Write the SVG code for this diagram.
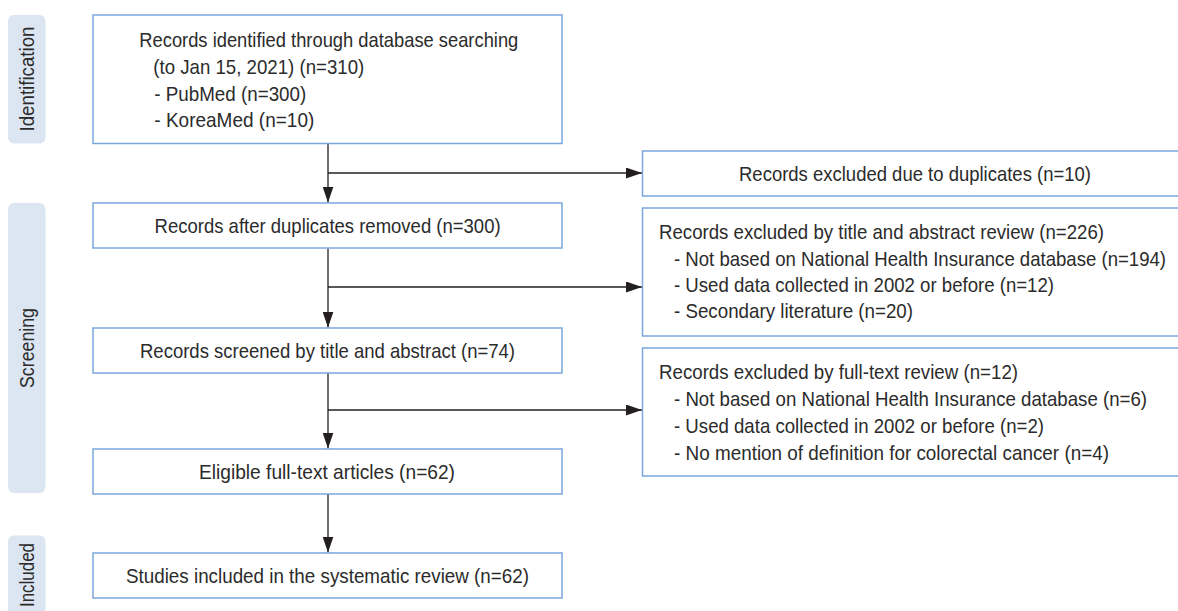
<svg xmlns="http://www.w3.org/2000/svg" width="1178" height="611" viewBox="0 0 1178 611">
<style>
.box{fill:#fff;stroke:#7ba7dc;stroke-width:1.5}
.pill{fill:#dce6f2;stroke:none}
.t{font-family:"Liberation Sans",Arial,sans-serif;font-size:21px;fill:#2b2b2b}
.c{stroke:#231f20;stroke-width:1.3;fill:none}
</style>
<defs>
<marker id="ah" markerUnits="userSpaceOnUse" markerWidth="16" markerHeight="11" refX="16" refY="5.5" orient="auto">
<path d="M0,0 L16,5.5 L0,11 z" fill="#231f20"/>
</marker>
</defs>
<g id="stage-identification">
<rect class="pill" x="8" y="15" width="37.5" height="128.5" rx="6"/>
<text class="t" x="34" y="79" text-anchor="middle" transform="rotate(-90 34 79)" textLength="105" lengthAdjust="spacingAndGlyphs">Identification</text>
</g>
<g id="stage-screening">
<rect class="pill" x="8" y="203" width="37.5" height="290" rx="6"/>
<text class="t" x="34" y="348" text-anchor="middle" transform="rotate(-90 34 348)" textLength="80" lengthAdjust="spacingAndGlyphs">Screening</text>
</g>
<g id="stage-included">
<rect class="pill" x="8" y="535.5" width="37.5" height="90" rx="6"/>
<text class="t" x="34" y="543" text-anchor="end" transform="rotate(-90 34 543)" textLength="64" lengthAdjust="spacingAndGlyphs">Included</text>
</g>
<g id="connectors">
<line class="c" x1="328" y1="143.5" x2="328" y2="202.5" marker-end="url(#ah)"/>
<line class="c" x1="328" y1="173" x2="642" y2="173" marker-end="url(#ah)"/>
<line class="c" x1="328" y1="248.5" x2="328" y2="327.5" marker-end="url(#ah)"/>
<line class="c" x1="328" y1="287" x2="642" y2="287" marker-end="url(#ah)"/>
<line class="c" x1="328" y1="373" x2="328" y2="448.5" marker-end="url(#ah)"/>
<line class="c" x1="328" y1="410" x2="642" y2="410" marker-end="url(#ah)"/>
<line class="c" x1="328" y1="494" x2="328" y2="552.5" marker-end="url(#ah)"/>
</g>
<g id="identified">
<rect class="box" x="93" y="15" width="469" height="128.5"/>
<text class="t" x="139.3" y="47.3" textLength="379" lengthAdjust="spacingAndGlyphs">Records identified through database searching</text>
<text class="t" x="153.3" y="74" textLength="211" lengthAdjust="spacingAndGlyphs">(to Jan 15, 2021) (n=310)</text>
<text class="t" x="154.3" y="100.7" textLength="152" lengthAdjust="spacingAndGlyphs">- PubMed (n=300)</text>
<text class="t" x="154.3" y="127.3" textLength="160" lengthAdjust="spacingAndGlyphs">- KoreaMed (n=10)</text>
</g>
<g id="excluded-duplicates">
<rect class="box" x="642.5" y="151" width="545" height="45"/>
<text class="t" x="739" y="180.7" textLength="352" lengthAdjust="spacingAndGlyphs">Records excluded due to duplicates (n=10)</text>
</g>
<g id="after-duplicates">
<rect class="box" x="93" y="203" width="469" height="45"/>
<text class="t" x="154.6" y="233.3" textLength="346" lengthAdjust="spacingAndGlyphs">Records after duplicates removed (n=300)</text>
</g>
<g id="excluded-title-abstract">
<rect class="box" x="642.5" y="208" width="545" height="128"/>
<text class="t" x="659" y="239" textLength="445" lengthAdjust="spacingAndGlyphs">Records excluded by title and abstract review (n=226)</text>
<text class="t" x="674" y="266" textLength="492" lengthAdjust="spacingAndGlyphs">- Not based on National Health Insurance database (n=194)</text>
<text class="t" x="674" y="292" textLength="380" lengthAdjust="spacingAndGlyphs">- Used data collected in 2002 or before (n=12)</text>
<text class="t" x="674" y="318" textLength="239" lengthAdjust="spacingAndGlyphs">- Secondary literature (n=20)</text>
</g>
<g id="screened">
<rect class="box" x="93" y="328" width="469" height="45"/>
<text class="t" x="140" y="358.3" textLength="375" lengthAdjust="spacingAndGlyphs">Records screened by title and abstract (n=74)</text>
</g>
<g id="excluded-full-text">
<rect class="box" x="642.5" y="348" width="545" height="128"/>
<text class="t" x="659" y="379" textLength="359" lengthAdjust="spacingAndGlyphs">Records excluded by full-text review (n=12)</text>
<text class="t" x="674" y="406" textLength="473" lengthAdjust="spacingAndGlyphs">- Not based on National Health Insurance database (n=6)</text>
<text class="t" x="674" y="433" textLength="370" lengthAdjust="spacingAndGlyphs">- Used data collected in 2002 or before (n=2)</text>
<text class="t" x="674" y="460" textLength="435" lengthAdjust="spacingAndGlyphs">- No mention of definition for colorectal cancer (n=4)</text>
</g>
<g id="eligible">
<rect class="box" x="93" y="449" width="469" height="45"/>
<text class="t" x="199" y="479.3" textLength="256" lengthAdjust="spacingAndGlyphs">Eligible full-text articles (n=62)</text>
</g>
<g id="included">
<rect class="box" x="93" y="553" width="469" height="45"/>
<text class="t" x="126" y="582.7" textLength="403" lengthAdjust="spacingAndGlyphs">Studies included in the systematic review (n=62)</text>
</g>
</svg>
